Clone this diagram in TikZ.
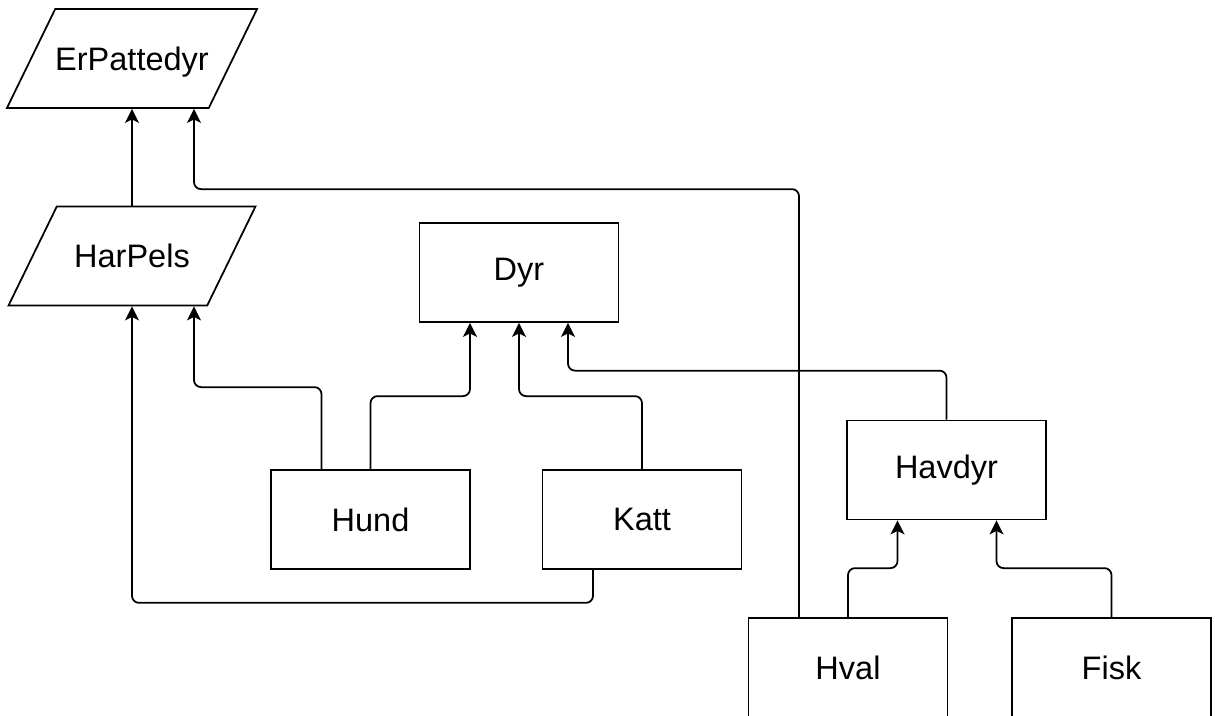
\documentclass[tikz,border=0pt]{standalone}
\usepackage{fontspec}
\setmainfont{Liberation Sans}
\usepackage{tikz}
\usetikzlibrary{arrows.meta}
\usetikzlibrary{shapes.geometric}
\usetikzlibrary{calc}

\tikzset{
  box/.style={draw, line width=1pt, minimum width=3.98cm, minimum height=1.98cm, inner sep=0pt, font=\fontsize{18.5}{22}\selectfont},
  slant/.style={box, trapezium, trapezium left angle=64, trapezium right angle=116, trapezium stretches body=true,
    text height=0.56cm, text depth=0.09cm, inner ysep=0.665cm, minimum width=4.94cm},
  link/.style={line width=1pt, rounded corners=4pt, -{Stealth[length=8pt,width=8pt,inset=2pt]}}
}

\begin{document}
\begin{tikzpicture}[x=0.02cm, y=-0.02cm]
          \useasboundingbox (0,0) rectangle (1215,716);
          % interfaces
          \node[slant] (erp) at (132,58.5) {ErPattedyr};
          \node[slant] (harpels) at (132,256) {HarPels};
          % classes
          \node[box] (dyr) at (519,272.5) {Dyr};
          \node[box] (hund) at (370.5,519.5) {Hund};
          \node[box] (katt) at (642,519.5) {Katt};
          \node[box] (havdyr) at (946.5,470) {Havdyr};
          \node[box] (hval) at (848,667.5) {Hval};
          \node[box] (fisk) at (1111.5,667.5) {Fisk};
          % lines into ErPattedyr
          \draw [link] (harpels.north -| harpels.center) -- (erp.south -| erp.center);
          \draw [link] ($(hval.north)+(-49,0)$) -- ($(hval.north)+(-49,-428)$) -| ($(erp.south -| erp.center)+(62,0)$);
          % lines into HarPels
          \draw [link] ($(hund.north)+(-49,0)$) -- ($(hund.north)+(-49,-82)$) -| ($(harpels.south -| harpels.center)+(62,0)$);
          \draw [link] ($(katt.south)+(-49,0)$) -- ($(katt.south)+(-49,33)$) -| (harpels.south -| harpels.center);
          % lines into Dyr
          \draw [link] (hund.north) -- ($(hund.north)+(0,-73)$) -| ($(dyr.south)+(-49,0)$);
          \draw [link] (katt.north) -- ($(katt.north)+(0,-73)$) -| (dyr.south);
          \draw [link] (havdyr.north) -- ($(havdyr.north)+(0,-49)$) -| ($(dyr.south)+(49,0)$);
          % lines into Havdyr
          \draw [link] (hval.north) -- ($(hval.north)+(0,-49)$) -| ($(havdyr.south)+(-49,0)$);
          \draw [link] (fisk.north) -- ($(fisk.north)+(0,-49)$) -| ($(havdyr.south)+(50,0)$);
        \end{tikzpicture}
\end{document}
